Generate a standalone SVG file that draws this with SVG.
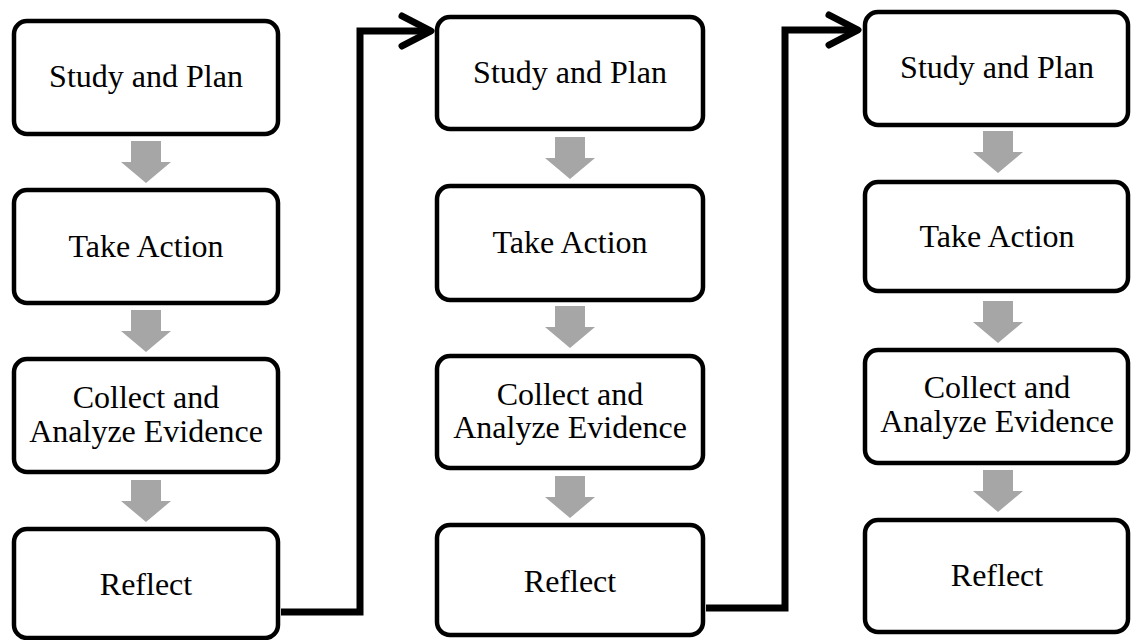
<svg xmlns="http://www.w3.org/2000/svg" width="1131" height="640" viewBox="0 0 1131 640">
<style>
svg text, text, tspan{font-family:"Liberation Serif","Times New Roman",Times,serif !important;font-size:32px;fill:#000;text-anchor:middle}
.box{fill:#fff;stroke:#000;stroke-width:4.5}
.conn{fill:none;stroke:#000;stroke-width:7}
.flow{fill:#a6a6a6}
</style>
<defs>
<path id="down" d="M -15 0 H 15 V 21 H 25 L 0 42 L -25 21 H -15 Z"/>
<marker id="chev" markerUnits="userSpaceOnUse" viewBox="-40 -25 50 50" markerWidth="50" markerHeight="50" refX="0" refY="0" orient="auto" overflow="visible">
<path d="M -29 -15 L 0 0 L -29 15" fill="none" stroke="#000" stroke-width="7" stroke-linecap="round" stroke-linejoin="round"/>
</marker>
</defs>
<rect width="1131" height="640" fill="#fff"/>
<g id="col1-study"><rect class="box" x="14" y="21" width="264" height="113" rx="13"/><text x="146" y="87" font-family="Liberation Serif">Study and Plan</text></g>
<g id="col1-action"><rect class="box" x="14" y="190" width="264" height="113" rx="13"/><text x="146" y="257" font-family="Liberation Serif">Take Action</text></g>
<g id="col1-collect"><rect class="box" x="14" y="359" width="264" height="113" rx="13"/><text x="146" y="408" font-family="Liberation Serif">Collect and</text><text x="146" y="442" font-family="Liberation Serif">Analyze Evidence</text></g>
<g id="col1-reflect"><rect class="box" x="14" y="529" width="264" height="109" rx="13"/><text x="146" y="595" font-family="Liberation Serif">Reflect</text></g>
<g id="col2-study"><rect class="box" x="437" y="17" width="266" height="112" rx="13"/><text x="570" y="83" font-family="Liberation Serif">Study and Plan</text></g>
<g id="col2-action"><rect class="box" x="437" y="186" width="266" height="114" rx="13"/><text x="570" y="253" font-family="Liberation Serif">Take Action</text></g>
<g id="col2-collect"><rect class="box" x="437" y="356" width="266" height="112" rx="13"/><text x="570" y="405" font-family="Liberation Serif">Collect and</text><text x="570" y="438" font-family="Liberation Serif">Analyze Evidence</text></g>
<g id="col2-reflect"><rect class="box" x="437" y="525" width="266" height="110" rx="13"/><text x="570" y="592" font-family="Liberation Serif">Reflect</text></g>
<g id="col3-study"><rect class="box" x="865" y="12" width="263" height="113" rx="13"/><text x="997" y="78" font-family="Liberation Serif">Study and Plan</text></g>
<g id="col3-action"><rect class="box" x="865" y="182" width="263" height="109" rx="13"/><text x="997" y="247" font-family="Liberation Serif">Take Action</text></g>
<g id="col3-collect"><rect class="box" x="865" y="350" width="263" height="113" rx="13"/><text x="997" y="398" font-family="Liberation Serif">Collect and</text><text x="997" y="432" font-family="Liberation Serif">Analyze Evidence</text></g>
<g id="col3-reflect"><rect class="box" x="865" y="520" width="263" height="112" rx="13"/><text x="997" y="586" font-family="Liberation Serif">Reflect</text></g>
<g id="connectors">
<use class="flow" href="#down" transform="translate(146 141)"/>
<use class="flow" href="#down" transform="translate(146 310)"/>
<use class="flow" href="#down" transform="translate(146 480)"/>
<use class="flow" href="#down" transform="translate(570 137)"/>
<use class="flow" href="#down" transform="translate(570 306)"/>
<use class="flow" href="#down" transform="translate(570 476)"/>
<use class="flow" href="#down" transform="translate(998 131)"/>
<use class="flow" href="#down" transform="translate(998 301)"/>
<use class="flow" href="#down" transform="translate(998 470)"/>
<path class="conn" d="M 281 612 H 360 V 31 H 431" marker-end="url(#chev)"/>
<path class="conn" d="M 706 608 H 785 V 30 H 858" marker-end="url(#chev)"/>
</g>
</svg>
